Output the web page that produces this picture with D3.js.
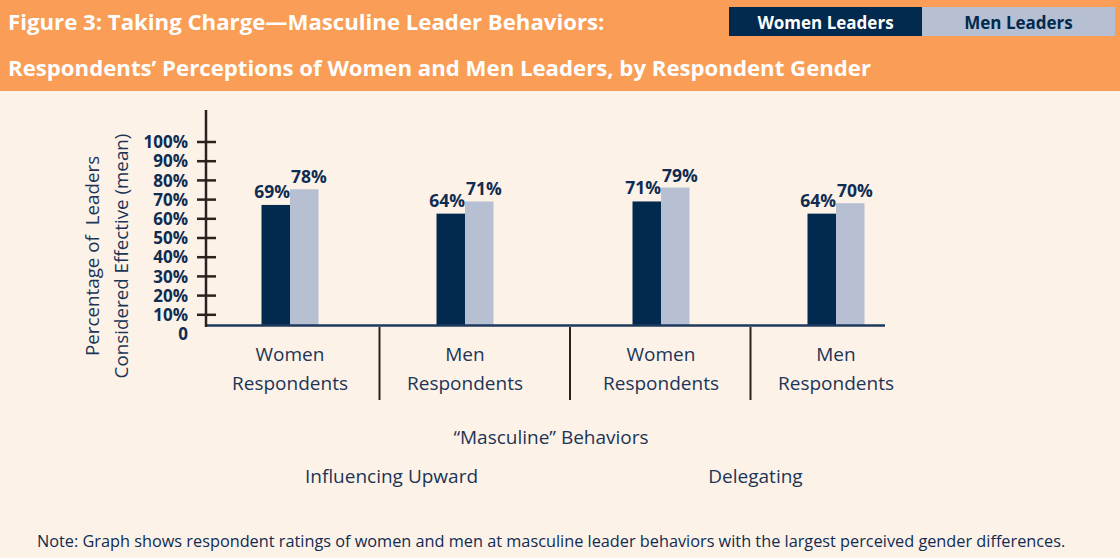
<!DOCTYPE html>
<html>
<head>
<meta charset="utf-8">
<script src="https://cdn.jsdelivr.net/npm/d3@7"></script>
<style>
  body { margin: 0; background: #fdf2e8; }
  svg { display: block; font-family: "Open Sans", sans-serif; }
</style>
</head>
<body>
<div id="chart"></div>
<script>
// data
const behaviors = ["Influencing Upward", "Delegating"];
const respondents = ["Women Respondents", "Men Respondents"];
const respondentLines = [["Women", "Respondents"], ["Men", "Respondents"]];
const series = ["Women Leaders", "Men Leaders"];
const womenLeaders = [69, 64, 71, 64];
const menLeaders = [78, 71, 79, 70];
const yTicks = [0, 10, 20, 30, 40, 50, 60, 70, 80, 90, 100];
const yTickLabels = ["0", "10%", "20%", "30%", "40%", "50%", "60%", "70%", "80%", "90%", "100%"];

const navy = "#012a4e";
const light = "#b6c0d2";
const textCol = "#1b3556";

const dimensions = { width: 1120, height: 558 };

const svg = d3.select("#chart").append("svg")
    .attr("width", dimensions.width)
    .attr("height", dimensions.height);

// background + header band
svg.append("rect").attr("width", dimensions.width).attr("height", dimensions.height).attr("fill", "#fdf2e8");
svg.append("rect").attr("width", dimensions.width).attr("height", 91).attr("fill", "#f99d57");

svg.append("text")
    .attr("x", 8).attr("y", 30)
    .text("Figure 3: Taking Charge\u2014Masculine Leader Behaviors:")
    .style("fill", "#fff").style("font-weight", 700).style("font-size", "22.2px");
svg.append("text")
    .attr("x", 8).attr("y", 76)
    .text("Respondents\u2019 Perceptions of Women and Men Leaders, by Respondent Gender")
    .style("fill", "#fff").style("font-weight", 700).style("font-size", "22.2px");

// legend
const legendScale = d3.scaleBand().domain(series).range([729, 1115]);
const colorScale = d3.scaleOrdinal().domain(series).range([navy, light]);
const legend = svg.append("g");
legend.selectAll("rect").data(series).join("rect")
    .attr("x", d => legendScale(d))
    .attr("y", 7)
    .attr("width", legendScale.bandwidth())
    .attr("height", 29)
    .attr("fill", d => colorScale(d));
legend.selectAll("text").data(series).join("text")
    .attr("x", d => legendScale(d) + legendScale.bandwidth() / 2)
    .attr("y", 29)
    .attr("text-anchor", "middle")
    .text(d => d)
    .style("fill", (d, i) => i === 0 ? "#fff" : navy)
    .style("font-weight", 700).style("font-size", "17px");

// groups: behavior x respondent
const groups = [];
behaviors.forEach((b, bi) => respondents.forEach((r, ri) => {
    groups.push({ behavior: b, respondent: r, lines: respondentLines[ri],
        values: [womenLeaders[bi * 2 + ri], menLeaders[bi * 2 + ri]] });
}));

// scales
const xOuter = d3.scaleBand().domain(behaviors).range([192, 934]);
const xInner = d3.scaleBand().domain(respondents).range([0, xOuter.bandwidth()]).paddingOuter(0.06);
const xSeries = d3.scaleBand().domain(series).range([-28.5, 28.5]);
const groupCenter = g => xOuter(g.behavior) + xInner(g.respondent) + xInner.bandwidth() / 2;

// bars use their own scale, tick marks are spaced a bit wider in the original
const yScale = d3.scaleLinear().domain([0, 100]).range([325, 151]);
const yTickScale = d3.scaleLinear().domain([0, 100]).range([334, 142]);

// bars + value labels
const bounds = svg.append("g");
groups.forEach(g => {
    const cx = groupCenter(g);
    series.forEach((s, si) => {
        const v = g.values[si];
        bounds.append("rect")
            .attr("x", cx + xSeries(s))
            .attr("y", yScale(v))
            .attr("width", xSeries.bandwidth())
            .attr("height", yScale(0) - yScale(v))
            .attr("fill", colorScale(s));
        bounds.append("text")
            .attr("x", si === 0 ? cx + xSeries(s) + xSeries.bandwidth() : cx + xSeries(s) + 1)
            .attr("y", yScale(v) - (si === 0 ? 7 : 6))
            .attr("text-anchor", si === 0 ? "end" : "start")
            .text(v + "%")
            .style("fill", "#0f2c52").style("font-weight", 700).style("font-size", "17.5px");
    });
});

// baseline
const centers = groups.map(groupCenter);
bounds.append("line")
    .attr("x1", 206).attr("x2", 885)
    .attr("y1", yScale(0) + 0.5).attr("y2", yScale(0) + 0.5)
    .attr("stroke", "#1d3a5c").attr("stroke-width", 2.5);

// group separators
d3.pairs(centers).forEach(([a, b], i) => {
    const x = (a + b) / 2 + (i === 1 ? 7 : 2);
    bounds.append("line")
        .attr("x1", x).attr("x2", x)
        .attr("y1", 327).attr("y2", 400)
        .attr("stroke", "#2b2220").attr("stroke-width", 2);
});

// y axis
const axis = svg.append("g");
axis.append("line")
    .attr("x1", 206).attr("x2", 206).attr("y1", 110).attr("y2", 327)
    .attr("stroke", "#2b2220").attr("stroke-width", 2.5);
axis.selectAll(".tick").data(yTicks.filter(d => d > 0)).join("line")
    .attr("x1", 197).attr("x2", 216)
    .attr("y1", d => yTickScale(d)).attr("y2", d => yTickScale(d))
    .attr("stroke", "#2b2220").attr("stroke-width", 2.5);
axis.selectAll("text").data(yTicks).join("text")
    .attr("x", 188)
    .attr("y", d => yTickScale(d))
    .attr("dy", "0.36em")
    .attr("text-anchor", "end")
    .text((d, i) => yTickLabels[i])
    .style("fill", "#0f2c52").style("font-weight", 700).style("font-size", "17px");

// y title
[["Percentage of  Leaders", 99], ["Considered Effective (mean)", 128]].forEach(([t, x]) => {
    svg.append("text")
        .attr("transform", `translate(${x},256) rotate(-90)`)
        .attr("text-anchor", "middle")
        .style("white-space", "pre")
        .text(t)
        .style("fill", textCol).style("font-size", "18.8px");
});

// category labels
groups.forEach(g => {
    const t = svg.append("text")
        .attr("text-anchor", "middle")
        .style("fill", textCol).style("font-size", "19px");
    g.lines.forEach((l, li) => {
        t.append("tspan").attr("x", groupCenter(g)).attr("y", 361 + li * 29).text(l);
    });
});

svg.append("text")
    .attr("x", 551).attr("y", 444)
    .attr("text-anchor", "middle")
    .text("\u201cMasculine\u201d Behaviors")
    .style("fill", textCol).style("font-size", "19px");

behaviors.forEach((b, bi) => {
    svg.append("text")
        .attr("x", (centers[bi * 2] + centers[bi * 2 + 1]) / 2 + (bi === 0 ? 14 : 7))
        .attr("y", 483)
        .attr("text-anchor", "middle")
        .text(b)
        .style("fill", textCol).style("font-size", "19px");
});

svg.append("text")
    .attr("x", 37).attr("y", 547)
    .text("Note: Graph shows respondent ratings of women and men at masculine leader behaviors with the largest perceived gender differences.")
    .style("fill", "#0f2c52").style("font-size", "16.3px").style("font-weight", 500);
</script>
</body>
</html>
